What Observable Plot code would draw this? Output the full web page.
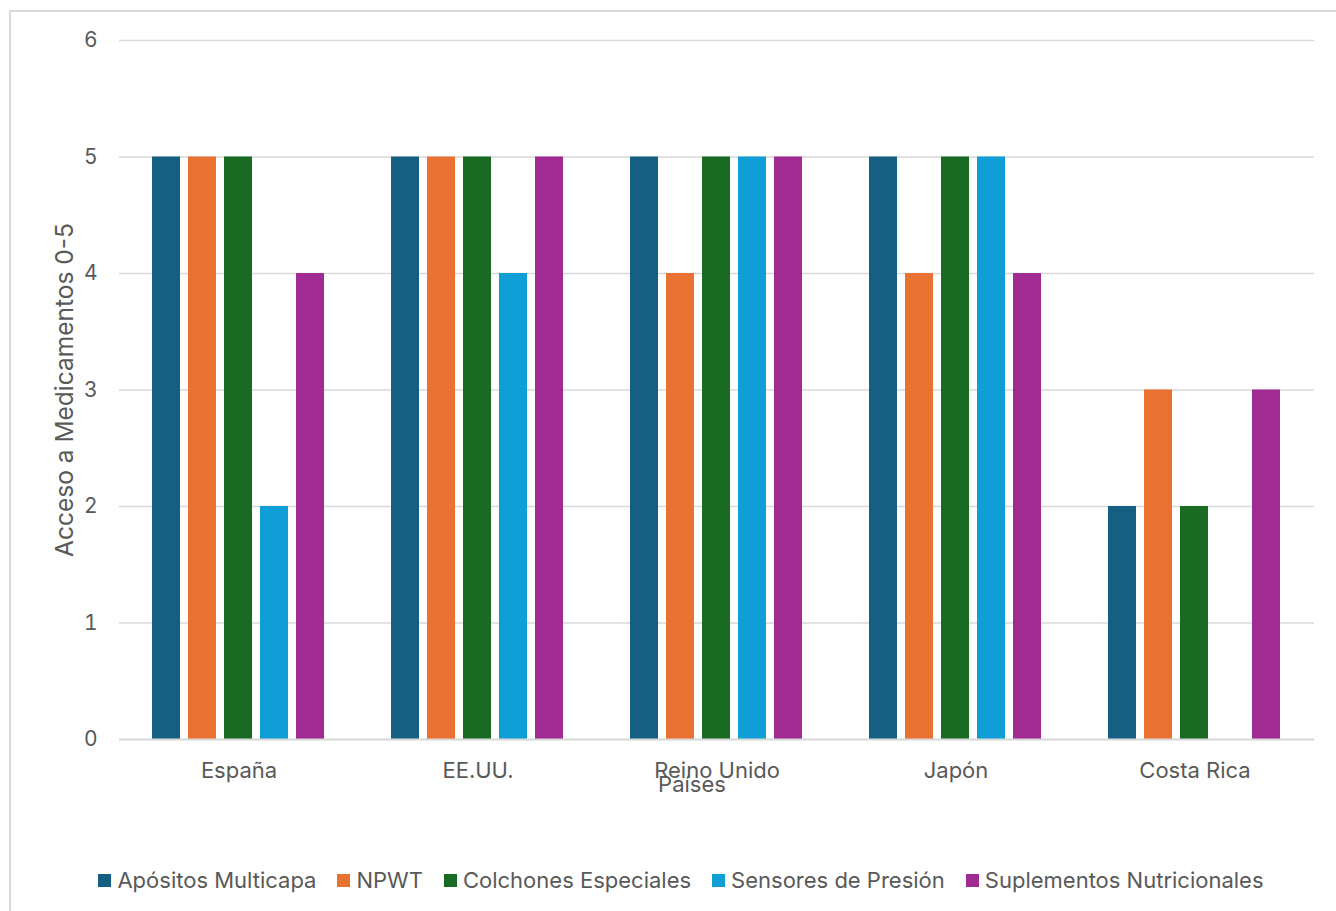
<!DOCTYPE html>
<html>
<head>
<meta charset="utf-8">
<script src="https://cdn.jsdelivr.net/npm/d3@7"></script>
<script src="https://cdn.jsdelivr.net/npm/@observablehq/plot@0.6"></script>
<style>
  html, body { margin: 0; padding: 0; background: #fff; width: 1336px; height: 911px; overflow: hidden; }
  body { position: relative; font-family: Inter, "Open Sans", sans-serif; }
  #frame { position: absolute; left: 9px; top: 10px; width: 1400px; height: 1000px; border: 2px solid #d9d9d9; box-sizing: border-box; }
  #chart { position: absolute; left: 0; top: 0; }
  #legend { position: absolute; left: 0; top: 866px; width: 1362px; display: flex; justify-content: center; gap: 21px; font-size: 22px; line-height: 28px; color: #595959; }
  #legend .item { display: flex; align-items: center; gap: 6px; }
  #legend .sw { width: 13px; height: 13px; display: inline-block; }
</style>
</head>
<body>
<div id="frame"></div>
<div id="chart"></div>
<div id="legend"></div>
<script>
const countries = ["España", "EE.UU.", "Reino Unido", "Japón", "Costa Rica"];
const series = ["Apósitos Multicapa", "NPWT", "Colchones Especiales", "Sensores de Presión", "Suplementos Nutricionales"];
const colors = ["#156082", "#E97132", "#196B24", "#0F9ED5", "#A02B93"];
const apositos = [5, 5, 5, 5, 2];
const npwt = [5, 5, 4, 4, 3];
const colchones = [5, 5, 5, 5, 2];
const sensores = [2, 4, 5, 5, 0];
const suplementos = [4, 5, 5, 4, 3];
const yTicks = [0, 1, 2, 3, 4, 5, 6];
const xTitle = "Países";
const yTitle = "Acceso a Medicamentos 0-5";

const seriesValues = [apositos, npwt, colchones, sensores, suplementos];
const data = [];
countries.forEach((c, i) => series.forEach((s, j) => data.push({country: c, series: s, value: seriesValues[j][i]})));

const chart = Plot.plot({
  width: 1336,
  height: 850,
  marginLeft: 118,
  marginRight: 22,
  marginTop: 40,
  marginBottom: 111,
  style: {fontFamily: "Inter, 'Open Sans', sans-serif", fontSize: "22px", color: "#595959", background: "transparent"},
  fx: {domain: countries, padding: 0},
  x: {domain: series, paddingInner: 0.216, paddingOuter: 0.84, axis: null},
  y: {domain: [0, 6], ticks: yTicks},
  color: {domain: series, range: colors},
  marks: [
    Plot.gridY(yTicks, {stroke: "#d9d9d9", strokeOpacity: 1, strokeWidth: 1.5, facet: "exclude"}),
    Plot.barY(data, {fx: "country", x: "series", y: "value", fill: "series"}),
    Plot.axisY(yTicks, {tickSize: 0, tickPadding: 22, label: null, fontSize: 21, tickFormat: d => String(d)}),
    Plot.axisY(yTicks, {tickSize: 0, text: null, label: yTitle, labelArrow: "none", labelAnchor: "center", labelOffset: 64, fontSize: 24.5}),
    Plot.axisFx({anchor: "bottom", tickSize: 0, tickPadding: 23, label: null, fontSize: 22}),
    Plot.text([xTitle], {fx: [countries[2]], text: d => d, frameAnchor: "bottom", dy: 52, dx: -25, fontSize: 22, fill: "#595959"}),
    Plot.ruleY([0], {stroke: "#d9d9d9", strokeWidth: 2})
  ]
});
document.getElementById("chart").appendChild(chart);

const legend = document.getElementById("legend");
series.forEach((s, j) => {
  const item = document.createElement("div");
  item.className = "item";
  const sw = document.createElement("span");
  sw.className = "sw";
  sw.style.background = colors[j];
  const t = document.createElement("span");
  t.textContent = s;
  item.appendChild(sw);
  item.appendChild(t);
  legend.appendChild(item);
});
</script>
</body>
</html>
